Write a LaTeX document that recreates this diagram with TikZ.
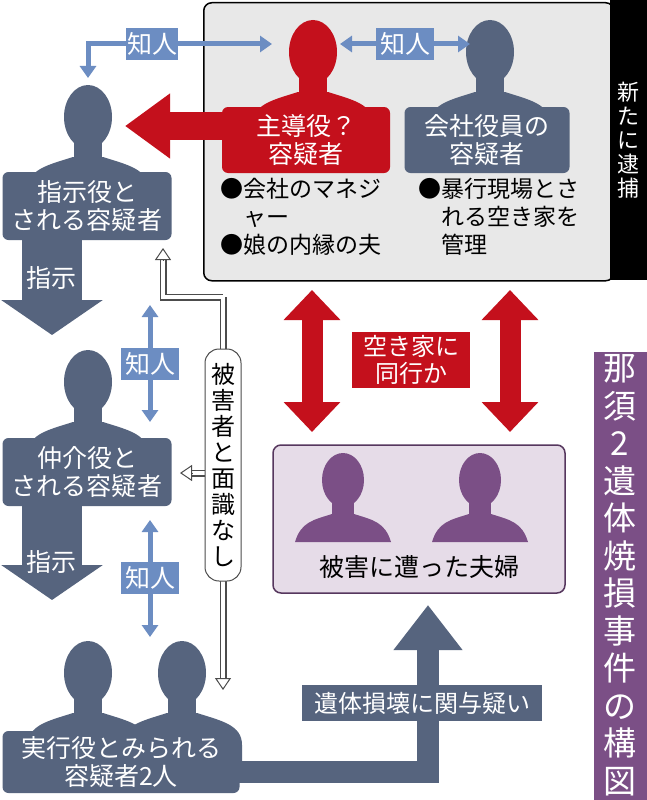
\documentclass[tikz,border=0pt]{standalone}
\usepackage{fontspec}
\setmainfont{Noto Sans CJK JP}
\usetikzlibrary{arrows.meta}
\definecolor{slate}{HTML}{56647E}
\definecolor{lblue}{HTML}{6C8DC2}
\definecolor{jred}{HTML}{C4101C}
\definecolor{purp}{HTML}{7B4F86}
\definecolor{lpurp}{HTML}{E6DCE8}
\definecolor{gbox}{HTML}{E8E8E8}
\begin{document}
\begin{tikzpicture}[x=1pt,y=-1pt,
  person/.pic={\fill (0,0) ellipse (24 and 32);
    \fill (-14,20) rectangle (14,45);
    \fill (-60,95) -- (-60,72) .. controls (-60,52) and (-40,48) .. (-15,40) -- (15,40) .. controls (40,48) and (60,52) .. (60,72) -- (60,95) -- cycle;},
  vperson/.pic={\fill (0,0) ellipse (21 and 27);
    \fill (-11,15) rectangle (11,38);
    \fill (-48,62) .. controls (-42,42) and (-30,40) .. (-11,34) -- (11,34) .. controls (30,40) and (42,42) .. (48,62) -- cycle;},
  lbl/.style={font=\fontsize{25}{28}\selectfont,align=center,text=white},
  sbox/.style={fill=slate,rounded corners=6pt},
  bul/.style={font=\fontsize{23}{28}\selectfont,align=left,anchor=north west,inner sep=0pt},
  vtxt/.style={align=center,font=\fontsize{24}{26}\selectfont},
  fatd/.style={{Triangle[width=55pt,length=30pt]}-{Triangle[width=55pt,length=30pt]},line width=21pt},
  thind/.style={{Triangle[width=16pt,length=12pt]}-{Triangle[width=16pt,length=12pt]},line width=5pt},
  otip/.style={-{Triangle[width=16pt,length=12pt,fill=white]},line width=1pt,draw=black!70},
]
\useasboundingbox (0,0) rectangle (647,800);
\fill[white] (0,0) rectangle (647,800);
% top gray box and black strip
\node[draw=black,line width=1.5pt,fill=gbox,rounded corners=8pt,minimum width=410pt,minimum height=278pt,anchor=north west] (gray) at (203,2) {};
\fill[black] (610,0) rectangle (647,280);
\node[vtxt,text=white,font=\fontsize{22}{24}\selectfont] (arrest) at (628,140) {新\\た\\に\\逮\\捕};
% purple strip
\fill[purp] (594,352) rectangle (647,800);
\node[vtxt,text=white,font=\fontsize{33}{37.5}\selectfont] (title) at (620,575) {那\\須\\2\\遺\\体\\焼\\損\\事\\件\\の\\構\\図};
% top persons
\pic[jred] at (313,52) {person};
\pic[slate] at (490,52) {person};
\node[fill=jred,rounded corners=6pt,minimum width=168pt,minimum height=66pt,lbl] (lead) at (306,140) {主導役？\\容疑者};
\node[sbox,minimum width=165pt,minimum height=66pt,lbl] (exec) at (487,140) {会社役員の\\容疑者};
\node[bul] (b1) at (220,178) {●会社のマネジ\\\hspace{1em}ャー\\●娘の内縁の夫};
\node[bul] (b2) at (418,178) {●暴行現場とさ\\\hspace{1em}れる空き家を\\\hspace{1em}管理};
% left column
\pic[slate] at (88,117) {person};
\node[sbox,minimum width=169pt,minimum height=68pt,lbl] (p1) at (87,206) {指示役と\\される容疑者};
\pic[slate] at (88,382) {person};
\node[sbox,minimum width=169pt,minimum height=68pt,lbl] (p2) at (87,472) {仲介役と\\される容疑者};
\pic[slate] at (88,673) {person};
\pic[slate] at (182,673) {person};
\node[sbox,minimum width=237pt,minimum height=62pt,lbl] (p3) at (121,762) {実行役とみられる\\容疑者2人};
% directives
\coordinate (d1s) at (52,238); \coordinate (d1e) at (52,335);
\draw[slate,line width=60pt,-{Triangle[width=100pt,length=35pt]}] (d1s) -- (d1e);
\node[lbl] (d1) at (52,278) {指示};
\coordinate (d2s) at (52,504); \coordinate (d2e) at (52,600);
\draw[slate,line width=60pt,-{Triangle[width=100pt,length=35pt]}] (d2s) -- (d2e);
\node[lbl] (d2) at (52,562) {指示};
% big red arrow
\coordinate (rs) at (230,126); \coordinate (re) at (125,126);
\draw[jred,-{Triangle[width=62pt,length=45pt]},line width=28pt] (rs) -- (re);
% top acquaintance arrows
\coordinate (a1) at (88,78); \coordinate (a2) at (272,44);
\draw[lblue,thind,line join=miter] (a1) -- (88,44) -- (a2);
\node[fill=lblue,lbl,minimum width=52pt,minimum height=32pt,inner sep=1pt] (k1) at (152,44) {知人};
\coordinate (a3) at (340,44); \coordinate (a4) at (470,44);
\draw[lblue,thind] (a3) -- (a4);
\node[fill=lblue,lbl,minimum width=58pt,minimum height=32pt,inner sep=1pt] (k2) at (405,44) {知人};
% vertical acquaintance arrows
\coordinate (v1) at (150,305); \coordinate (v2) at (150,422);
\draw[lblue,thind] (v1) -- (v2);
\node[fill=lblue,lbl,minimum width=58pt,minimum height=32pt,inner sep=1pt] (k3) at (150,364) {知人};
\coordinate (v3) at (150,520); \coordinate (v4) at (150,637);
\draw[lblue,thind] (v3) -- (v4);
\node[fill=lblue,lbl,minimum width=58pt,minimum height=32pt,inner sep=1pt] (k4) at (150,578) {知人};
% no-acquaintance outlined arrows
\coordinate (n0) at (223,297); \coordinate (n1) at (163,260);
\coordinate (n2) at (223,678); \coordinate (n3) at (192,473);
\coordinate (n1t) at (163,248); \coordinate (n2t) at (223,690); \coordinate (n3t) at (180,473);
\draw[line width=7pt,draw=black!70] (n0) -| (n1) (n0) -- (n2) (223,473) -- (n3);
\draw[line width=4.5pt,draw=white] (n0) -| (n1) (n0) -- (n2) (223,473) -- (n3);
\draw[otip] (n1) -- (n1t);
\draw[otip] (n2) -- (n2t);
\draw[otip] (n3) -- (n3t);
\node[draw=black!70,fill=white,rounded corners=14pt,line width=1pt,minimum width=36pt,minimum height=232pt,vtxt] (nm) at (223,465) {被\\害\\者\\と\\面\\識\\な\\し};
% red double arrows
\coordinate (r1) at (312,290); \coordinate (r2) at (312,432);
\draw[jred,fatd] (r1) -- (r2);
\coordinate (r3) at (510,290); \coordinate (r4) at (510,432);
\draw[jred,fatd] (r3) -- (r4);
\node[fill=jred,lbl,minimum width=118pt,minimum height=56pt,inner sep=1pt,font=\fontsize{24}{27}\selectfont] (accom) at (411,360) {空き家に\\同行か};
% victims
\node[draw=purp!70!black,line width=1.5pt,fill=lpurp,rounded corners=8pt,minimum width=292pt,minimum height=148pt] (vict) at (419,519) {};
\pic[purp] at (343,480) {vperson};
\pic[purp] at (480,480) {vperson};
\node[font=\fontsize{25}{28}\selectfont] (vt) at (419,567) {被害に遭った夫婦};
% bottom arrow
\coordinate (bs) at (239,772); \coordinate (be) at (428,605);
\draw[slate,line width=22pt,line join=miter,-{Triangle[width=66pt,length=45pt]}] (bs) -| (be);
\node[fill=slate,lbl,minimum width=240pt,minimum height=36pt,inner sep=1pt,font=\fontsize{24}{26}\selectfont] (harm) at (422,703) {遺体損壊に関与疑い};
\end{tikzpicture}
\end{document}
